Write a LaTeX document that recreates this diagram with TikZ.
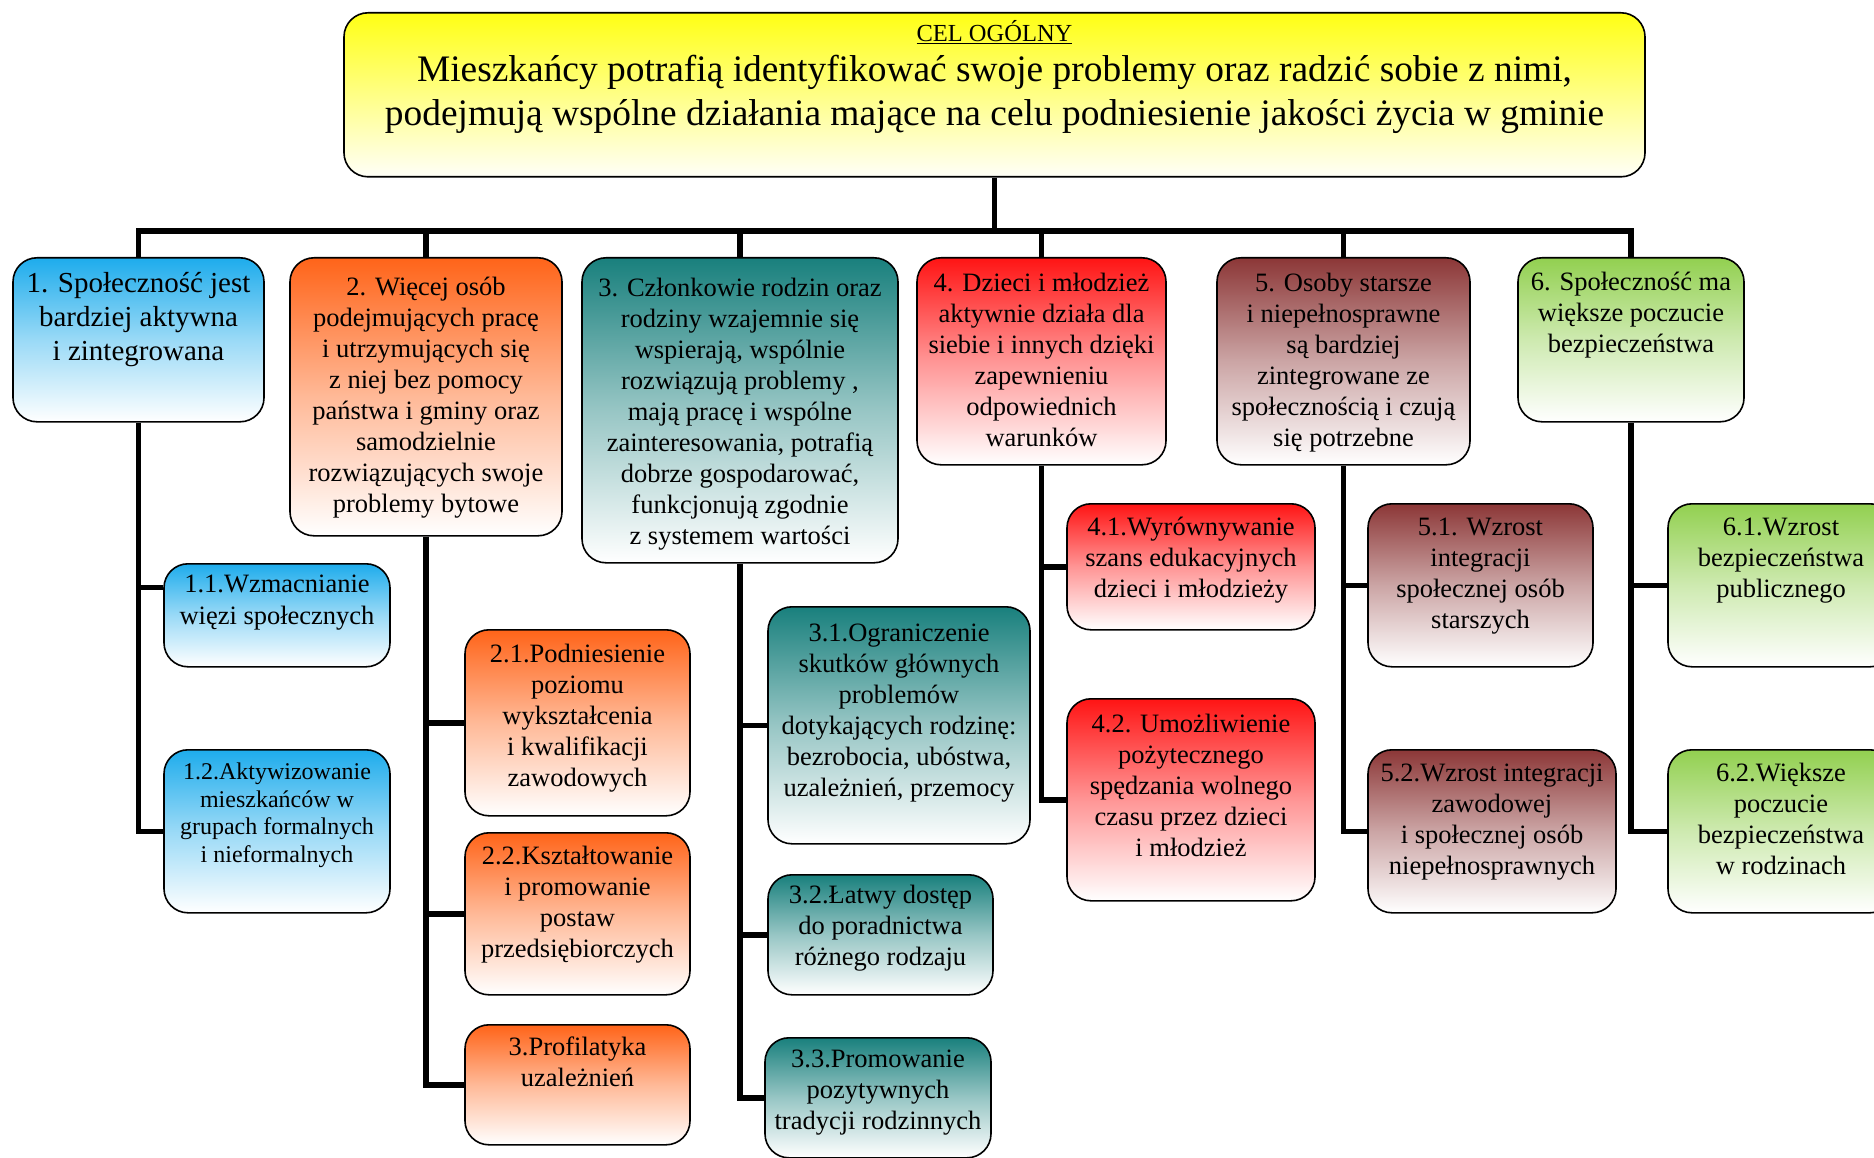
\documentclass[tikz,border=0pt]{standalone}
\usepackage{fontspec}
\setmainfont{Liberation Serif}
\usetikzlibrary{calc}
\definecolor{cyel}{RGB}{255,255,20}
\definecolor{cblue}{RGB}{30,172,236}
\definecolor{corange}{RGB}{255,100,25}
\definecolor{cteal}{RGB}{25,128,125}
\definecolor{cred}{RGB}{255,20,20}
\definecolor{cmaroon}{RGB}{140,55,55}
\definecolor{cgreen}{RGB}{146,208,80}
\pgfdeclarelayer{bg}
\pgfsetlayers{bg,main}
\tikzset{
  bx/.style={draw=black, line width=1.6pt, rounded corners=24pt, inner sep=0pt, bottom color=white},
  conn/.style={line width=5.5pt, black}
}
\newcommand\bbox[8]{%
  \node[bx, top color=#6, middle color=#6!45!white, anchor=north] (#1) at (#2,#3)
    {\parbox[t][#5pt][t]{#4pt}{\centering\fontsize{26.5}{31}\selectfont\rule{0pt}{#7pt}#8\par}};}
\begin{document}
\begin{tikzpicture}[x=1pt,y=-1pt]
\useasboundingbox (0,0) rectangle (1874,1158);
% top goal
\node[bx, bottom color={rgb,255:red,255;green,255;blue,248}, top color=cyel, anchor=north] (top) at (994.5,12)
  {\parbox[t][164pt][t]{1301pt}{\centering\rule{0pt}{29pt}{\fontsize{24.5}{28}\selectfont\underline{CEL OGÓLNY}}\\[-4pt]
   \fontsize{37.4}{44}\selectfont Mieszkańcy potrafią identyfikować swoje problemy oraz radzić sobie z nimi,\\
   podejmują wspólne działania mające na celu podniesienie jakości życia w gminie\par}};
% level 1
\bbox{b1}{138.5}{257}{251}{164}{cblue}{35}{\fontsize{29}{34}\selectfont 1. Społeczność jest\\ bardziej aktywna\\ i zintegrowana}
\bbox{b2}{426}{257}{272}{278}{corange}{38}{2. Więcej osób\\ podejmujących pracę\\ i utrzymujących się\\ z niej bez pomocy\\ państwa i gminy oraz\\ samodzielnie\\ rozwiązujących swoje\\ problemy bytowe}
\bbox{b3}{740}{257}{316}{305}{cteal}{39}{3. Członkowie rodzin oraz\\ rodziny wzajemnie się\\ wspierają, wspólnie\\ rozwiązują problemy ,\\ mają pracę i wspólne\\ zainteresowania, potrafią\\ dobrze gospodarować,\\ funkcjonują zgodnie\\ z systemem wartości}
\bbox{b4}{1041.5}{257}{249}{207}{cred}{34}{4. Dzieci i młodzież\\ aktywnie działa dla\\ siebie i innych dzięki\\ zapewnieniu\\ odpowiednich\\ warunków}
\bbox{b5}{1343.5}{257}{253}{207}{cmaroon}{34}{5. Osoby starsze\\ i niepełnosprawne\\ są bardziej\\ zintegrowane ze\\ społecznością i czują\\ się potrzebne}
\bbox{b6}{1631}{257}{226}{164}{cgreen}{33}{6. Społeczność ma\\ większe poczucie\\ bezpieczeństwa}
% level 2
\bbox{b11}{277}{563}{226}{103}{cblue}{29}{\fontsize{26.5}{32}\selectfont 1.1.Wzmacnianie\\ więzi społecznych}
\bbox{b12}{277}{749}{226}{163}{cblue}{30}{\fontsize{24}{27.5}\selectfont 1.2.Aktywizowanie\\ mieszkańców w\\ grupach formalnych\\ i nieformalnych}
\bbox{b21}{577.5}{629}{225}{186}{corange}{33}{2.1.Podniesienie\\ poziomu\\ wykształcenia\\ i kwalifikacji\\ zawodowych}
\bbox{b22}{577.5}{832}{225}{162}{corange}{32}{2.2.Kształtowanie\\ i promowanie\\ postaw\\ przedsiębiorczych}
\bbox{b23}{577.5}{1024}{225}{120}{corange}{31}{3.Profilatyka\\ uzależnień}
\bbox{b31}{899}{606}{262}{237}{cteal}{35}{3.1.Ograniczenie\\ skutków głównych\\ problemów\\ dotykających rodzinę:\\ bezrobocia, ubóstwa,\\ uzależnień, przemocy}
\bbox{b32}{880.5}{874}{225}{120}{cteal}{29}{3.2.Łatwy dostęp\\ do poradnictwa\\ różnego rodzaju}
\bbox{b33}{878}{1037}{226}{120}{cteal}{30}{3.3.Promowanie\\ pozytywnych\\ tradycji rodzinnych}
\bbox{b41}{1191}{503}{248}{126}{cred}{32}{4.1.Wyrównywanie\\ szans edukacyjnych\\ dzieci i młodzieży}
\bbox{b42}{1191}{698}{248}{202}{cred}{34}{4.2. Umożliwienie\\ pożytecznego\\ spędzania wolnego\\ czasu przez dzieci\\ i młodzież}
\bbox{b51}{1480.5}{503}{225}{163}{cmaroon}{32}{5.1. Wzrost\\ integracji\\ społecznej osób\\ starszych}
\bbox{b52}{1492}{749}{248}{163}{cmaroon}{32}{5.2.Wzrost integracji\\ zawodowej\\ i społecznej osób\\ niepełnosprawnych}
\bbox{b61}{1781}{503}{226}{163}{cgreen}{32}{6.1.Wzrost\\ bezpieczeństwa\\ publicznego}
\bbox{b62}{1781}{749}{226}{163}{cgreen}{32}{6.2.Większe\\ poczucie\\ bezpieczeństwa\\ w rodzinach}
\coordinate (bus) at (0,231);
\coordinate (c11) at ([yshift=28pt]b11.west);
\begin{pgfonlayer}{bg}
\fill[white] (0,0) rectangle (1874,1158);
\draw[conn] (top.south) -- (top.south |- bus);
\draw[conn] (b1.north) -- (b1.north |- bus) -- (b6.north |- bus) -- (b6.north);
\foreach \n in {b2,b3,b4,b5} \draw[conn] (\n.north) -- (\n.north |- bus);
\draw[conn] (b1.south) |- (b12.west);
\draw[conn] (b1.south |- c11) -- (c11);
\draw[conn] (b2.south) |- (b23.west);
\draw[conn] (b2.south |- b21.west) -- (b21.west);
\draw[conn] (b2.south |- b22.west) -- (b22.west);
\draw[conn] (b3.south) |- (b33.west);
\draw[conn] (b3.south |- b31.west) -- (b31.west);
\draw[conn] (b3.south |- b32.west) -- (b32.west);
\draw[conn] (b4.south) |- (b42.west);
\draw[conn] (b4.south |- b41.west) -- (b41.west);
\draw[conn] (b5.south) |- (b52.west);
\draw[conn] (b5.south |- b51.west) -- (b51.west);
\draw[conn] (b6.south) |- (b62.west);
\draw[conn] (b6.south |- b61.west) -- (b61.west);
\end{pgfonlayer}
\end{tikzpicture}
\end{document}
